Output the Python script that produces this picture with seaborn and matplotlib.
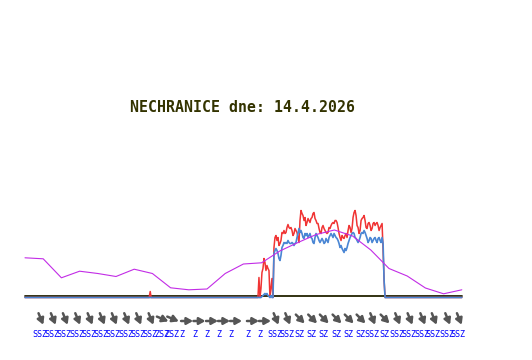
import numpy as np
import pandas as pd
import matplotlib
matplotlib.use("Agg")
import matplotlib.pyplot as plt
import matplotlib.transforms as mtransforms
import seaborn as sns

# ---------------- data ----------------
title = "NECHRANICE dne: 14.4.2026"

# hourly temperature trace (purple), in chart units above the baseline
temp_hours = list(range(25))
temp = [39.7, 38.7, 19.7, 26.3, 24.0, 21.0, 28.3, 24.0, 9.7, 7.7, 8.5, 24.0,
        33.5, 34.7, 46.5, 55.0, 63.0, 67.5, 61.5, 47.5, 29.0, 21.5, 9.5, 3.7, 7.7]

# high-resolution wind samples (start 12.80 h, one sample every 3.3 min)
wind_start_h = 12.80
wind_step_min = 3.3
gust = [0, 20, 0, 9, 25, 29, 39, 35, 27, 32,
        29, 27, 0, 10, 19, 0, 50, 60, 62, 57,
        60, 52, 54, 57, 65, 64, 67, 64, 65, 70,
        73, 70, 69, 70, 67, 62, 64, 69, 67, 65,
        60, 55, 77, 87, 84, 82, 77, 80, 72, 75,
        79, 77, 75, 79, 80, 84, 85, 79, 77, 74,
        74, 69, 65, 64, 70, 72, 69, 67, 65, 64,
        65, 70, 69, 72, 74, 75, 74, 77, 77, 75,
        70, 64, 60, 57, 62, 60, 59, 62, 64, 60,
        67, 72, 70, 65, 69, 80, 85, 87, 82, 72,
        70, 64, 67, 77, 79, 80, 82, 77, 70, 69,
        74, 75, 72, 67, 69, 74, 75, 72, 74, 75,
        72, 67, 70, 72, 74, 47, 17, 0]
wind = [0, 0, 0, 0, 1, 2, 3, 4, 3, 4,
        2, 1, 0, 2, 0, 0, 44, 47, 49, 47,
        44, 39, 37, 42, 50, 52, 55, 54, 55, 54,
        57, 55, 54, 54, 55, 54, 52, 54, 55, 60,
        64, 69, 65, 67, 64, 60, 59, 64, 62, 64,
        60, 62, 64, 60, 59, 55, 54, 60, 64, 62,
        60, 57, 55, 57, 59, 57, 54, 55, 59, 57,
        55, 60, 62, 64, 62, 60, 64, 62, 60, 59,
        57, 54, 50, 52, 49, 47, 45, 49, 47, 50,
        54, 57, 60, 62, 64, 65, 64, 60, 59, 57,
        55, 57, 60, 64, 65, 64, 67, 65, 62, 59,
        55, 57, 60, 59, 55, 57, 59, 60, 57, 55,
        59, 60, 57, 55, 60, 54, 17, 0]

# sparse night records (outside the high-resolution window)
gust_night_t = [0.0, 6.82, 6.88, 6.93]
gust_night_v = [0, 0, 6, 0]

# wind direction records
dir_hours = [0.82, 1.50, 2.16, 2.84, 3.52, 4.19, 4.85, 5.53, 6.19, 6.87,
             7.51, 8.08, 8.63, 9.31, 10.00, 10.66, 11.32, 12.25, 12.91,
             13.74, 14.38, 15.07, 15.75, 16.39, 17.09, 17.76, 18.41, 19.05,
             19.73, 20.42, 21.10, 21.80, 22.43, 23.17, 23.81]
dir_labels = (["SSZ"] * 10 + ["ZSZ"] * 2 + ["Z"] * 7 +
              ["SSZ", "SSZ"] + ["SZ"] * 6 + ["SSZ", "SZ"] + ["SSZ"] * 6)

# ---------------- build frames ----------------
act_t = wind_start_h + np.arange(len(gust)) * wind_step_min / 60.0
df_gust = pd.DataFrame({"t": list(gust_night_t) + list(act_t) + [24.0],
                        "v": list(gust_night_v) + list(gust) + [0]})
df_wind = pd.DataFrame({"t": [0.0] + list(act_t) + [24.0],
                        "v": [0] + list(wind) + [0]})
df_temp = pd.DataFrame({"t": temp_hours, "v": temp})

# ---------------- plot ----------------
sns.set_theme(style="white")
W, H = 532, 360
fig = plt.figure(figsize=(W / 100, H / 100), dpi=100)
fig.patch.set_facecolor("white")

ymin, ymax = -2.0, 100.0
bottom_px = 299.5
ax = fig.add_axes([25 / W, (H - bottom_px) / H, 436.8 / W, (ymax - ymin) / H])
ax.set_xlim(0, 24)
ax.set_ylim(ymin, ymax)
ax.set_axis_off()

ax.axhline(1.5, color="#222200", lw=1.3, zorder=1)
sns.lineplot(data=df_gust, x="t", y="v", ax=ax, color="#f03434", lw=1.1,
             estimator=None, sort=False, zorder=2)
sns.lineplot(data=df_wind, x="t", y="v", ax=ax, color="#4a86d4", lw=1.2,
             estimator=None, sort=False, zorder=3)
sns.lineplot(data=df_temp, x="t", y="v", ax=ax, color="#c22ce6", lw=0.8,
             estimator=None, sort=False, zorder=4)
for ln in ax.lines:
    ln.set_clip_on(False)

fig.text(242 / W, 1 - 107.5 / H, title, ha="center", va="center",
         family="DejaVu Sans Mono", fontsize=10.7, fontweight="bold",
         color="#333300")

# wind direction row
ax2 = fig.add_axes([25 / W, 15 / H, 436.8 / W, 40 / H])
ax2.set_xlim(0, 24)
ax2.set_ylim(0, 1)
ax2.set_axis_off()

angles = {"SSZ": -67.5, "SZ": -45.0, "ZSZ": -22.5, "Z": 0.0}
for h, lab in zip(dir_hours, dir_labels):
    ang = np.deg2rad(angles[lab])
    if lab == "Z":
        L, shift, yc = 12.0, 5.0, 0.6
    else:
        L, shift, yc = 12.5, 1.0, 0.65
    dx = L / 2 * np.cos(ang)
    dy = L / 2 * np.sin(ang)
    head = ax2.transData + mtransforms.ScaledTranslation((shift + dx) / 100, dy / 100, fig.dpi_scale_trans)
    tail = ax2.transData + mtransforms.ScaledTranslation((shift - dx) / 100, -dy / 100, fig.dpi_scale_trans)
    ax2.annotate("", xy=(h, yc), xycoords=head, xytext=(h, yc), textcoords=tail,
                 arrowprops=dict(arrowstyle="-|>,head_length=0.8,head_width=0.45",
                                 color="#555555", lw=1.8, shrinkA=0, shrinkB=0,
                                 mutation_scale=4.5))
    ax2.text(h, 0.26, lab, ha="center", va="center", color="#0000ff",
             fontsize=6, family="DejaVu Sans Mono")

fig.savefig("out.png", dpi=100)
